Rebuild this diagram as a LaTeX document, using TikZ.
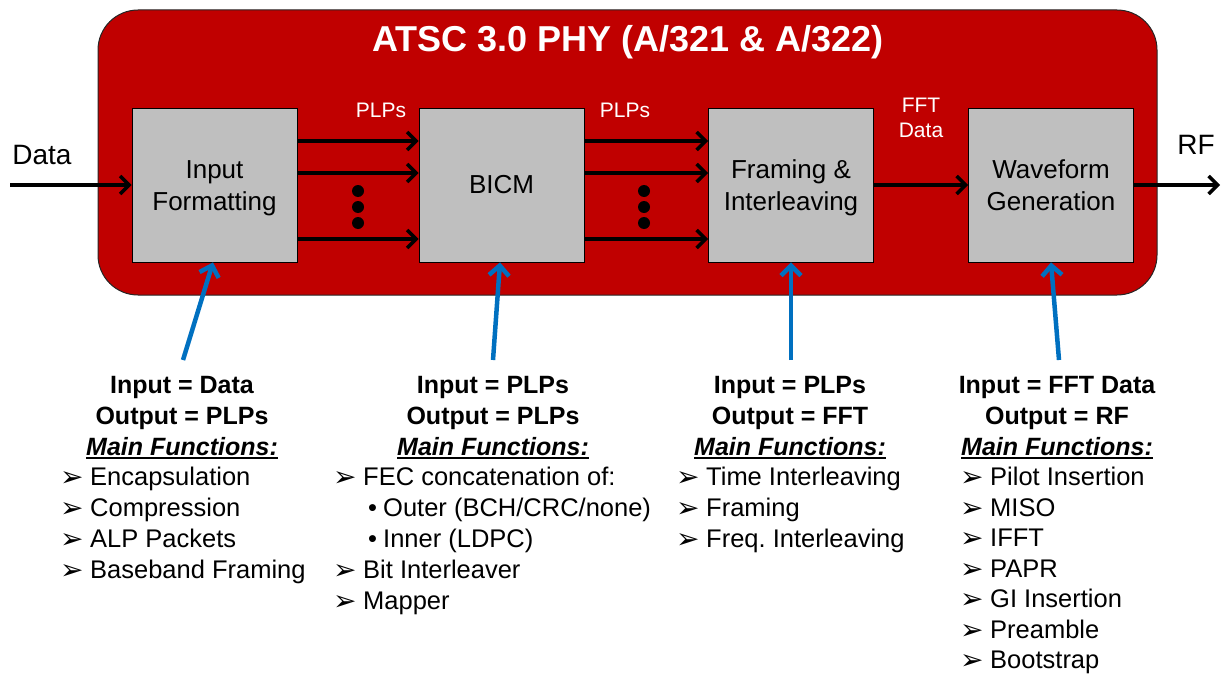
\documentclass[tikz,border=0pt]{standalone}
\usepackage{fontspec}
\setmainfont{Liberation Sans}
\newfontfamily\djv{DejaVu Sans}
\usetikzlibrary{arrows.meta}
\definecolor{atscred}{HTML}{C00000}
\definecolor{boxgray}{HTML}{BFBFBF}
\definecolor{arrblue}{HTML}{0070C0}
\frenchspacing
\newcommand\itm[1]{\makebox[30pt][l]{\raisebox{-1pt}{\djv\fontsize{28}{28}\selectfont ➢}}#1}
\newcommand\subitm[1]{\hspace*{35pt}\makebox[15pt][l]{•}#1}
\newcommand\ulbox[1]{\setbox0\hbox{#1}\rlap{\rule[-4pt]{\wd0}{2pt}}\box0}
\newcommand\twoline[2]{\raisebox{-3pt}[\height][\depth]{\begin{tabular}{@{}c@{}}#1\\#2\end{tabular}}}
\begin{document}
\begin{tikzpicture}[x=1pt,y=-1pt,
 block/.style={draw=black, line width=0.8pt, fill=boxgray, minimum width=165pt, minimum height=154pt, font=\fontsize{26}{32}\selectfont, inner sep=0pt},
 flow/.style={line width=3.5pt, -{Straight Barb[length=9pt,width=18pt]}},
 feed/.style={draw=arrblue, line width=4.5pt, -{Straight Barb[length=10pt,width=20pt]}},
 lbl/.style={text=white, font=\fontsize{21}{25}\selectfont, align=center, inner sep=0pt},
 outlbl/.style={font=\fontsize{28}{28}\selectfont, inner sep=0pt},
 hdr/.style={anchor=base, inner sep=0pt, font=\fontsize{25}{25}\selectfont\bfseries},
 item/.style={anchor=base west, inner sep=0pt, font=\fontsize{25.5}{25}\selectfont},
 dot/.style={circle, fill=black, inner sep=0pt, minimum size=12pt}]

\useasboundingbox (0,0) rectangle (1221,677);

% outer red box
\node[draw=black!85, line width=1pt, fill=atscred, rounded corners=40pt,
      minimum width=1059pt, minimum height=285pt, inner sep=0pt] (phy) at (627.5,152.5) {};
\node[text=white, font=\fontsize{36}{36}\selectfont\bfseries, inner sep=0pt] (title) at (628,42) {ATSC 3.0 PHY (A/321 \& A/322)};

% blocks
\node[block] (b1) at (214.5,185) {\twoline{Input}{Formatting}};
\node[block] (b2) at (501.5,185) {BICM};
\node[block] (b3) at (791,185) {\twoline{Framing \&}{Interleaving}};
\node[block] (b4) at (1051,185) {\twoline{Waveform}{Generation}};

% labels on connectors
\node[outlbl] (datalbl) at (42,155) {Data};
\node[outlbl] (rflbl) at (1196,145) {RF};
\node[lbl] (plp1) at (381,110) {PLPs};
\node[lbl] (plp2) at (625,110) {PLPs};
\node[lbl] (fftlbl) at (921,118) {FFT\\Data};

% flow connectors
\coordinate (din) at (10,185);
\coordinate (rfout) at (1220,185);
\draw[flow] (din) -- (b1.west);
\foreach \s in {44,12,-54} {
  \draw[flow] ([yshift=\s pt]b1.east) -- ([yshift=\s pt]b2.west);
  \draw[flow] ([yshift=\s pt]b2.east) -- ([yshift=\s pt]b3.west);
}
\draw[flow] (b3.east) -- (b4.west);
\draw[flow] (b4.east) -- (rfout);

% ellipsis dots
\node[dot] (d1a) at (358,191) {};
\node[dot] (d1b) at (358,207) {};
\node[dot] (d1c) at (358,223) {};
\node[dot] (d2a) at (644,191) {};
\node[dot] (d2b) at (644,207) {};
\node[dot] (d2c) at (644,223) {};

% blue feed arrows
\coordinate (f1) at (183,360);
\coordinate (f2) at (493,360);
\coordinate (f3) at (791,360);
\coordinate (f4) at (1059,360);
\draw[feed] (f1) -- ([xshift=-1.5pt]b1.south);
\draw[feed] (f2) -- ([xshift=-1.5pt]b2.south);
\draw[feed] (f3) -- (b3.south);
\draw[feed] (f4) -- (b4.south);

% block 1 description
\node[hdr] (h1a) at (182,393) {Input = Data};
\node[hdr] (h1b) at (182,424) {Output = PLPs};
\node[hdr] (h1c) at (182,455) {\itshape\ulbox{Main Functions:}};
\node[item] (i1a) at (60,485) {\itm{Encapsulation}};
\node[item] (i1b) at (60,516) {\itm{Compression}};
\node[item] (i1c) at (60,547) {\itm{ALP Packets}};
\node[item] (i1d) at (60,578) {\itm{Baseband Framing}};

% block 2 description
\node[hdr] (h2a) at (493,393) {Input = PLPs};
\node[hdr] (h2b) at (493,424) {Output = PLPs};
\node[hdr] (h2c) at (493,455) {\itshape\ulbox{Main Functions:}};
\node[item] (i2a) at (333,485) {\itm{FEC concatenation of:}};
\node[item] (i2b) at (333,516) {\subitm{Outer (BCH/CRC/none)}};
\node[item] (i2c) at (333,547) {\subitm{Inner (LDPC)}};
\node[item] (i2d) at (333,578) {\itm{Bit Interleaver}};
\node[item] (i2e) at (333,609) {\itm{Mapper}};

% block 3 description
\node[hdr] (h3a) at (790,393) {Input = PLPs};
\node[hdr] (h3b) at (790,424) {Output = FFT};
\node[hdr] (h3c) at (790,455) {\itshape\ulbox{Main Functions:}};
\node[item] (i3a) at (676,485) {\itm{Time Interleaving}};
\node[item] (i3b) at (676,516) {\itm{Framing}};
\node[item] (i3c) at (676,547) {\itm{Freq. Interleaving}};

% block 4 description
\node[hdr] (h4a) at (1057,393) {Input = FFT Data};
\node[hdr] (h4b) at (1057,424) {Output = RF};
\node[hdr] (h4c) at (1057,455) {\itshape\ulbox{Main Functions:}};
\node[item] (i4a) at (960,485) {\itm{Pilot Insertion}};
\node[item] (i4b) at (960,516) {\itm{MISO}};
\node[item] (i4c) at (960,546.5) {\itm{IFFT}};
\node[item] (i4d) at (960,577) {\itm{PAPR}};
\node[item] (i4e) at (960,607.5) {\itm{GI Insertion}};
\node[item] (i4f) at (960,638) {\itm{Preamble}};
\node[item] (i4g) at (960,668) {\itm{Bootstrap}};
\end{tikzpicture}
\end{document}
